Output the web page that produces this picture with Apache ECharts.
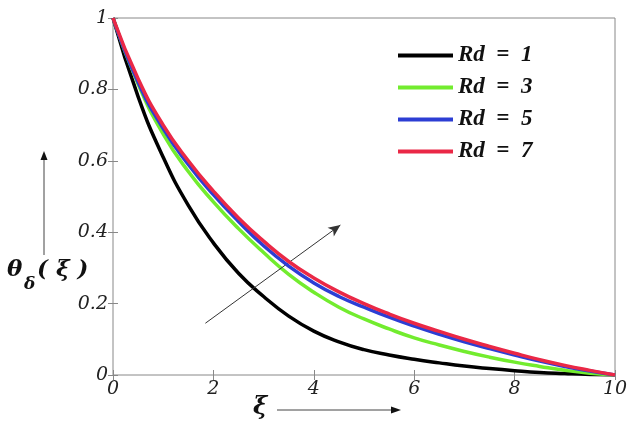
<!DOCTYPE html>
<html>
	<head>
		<meta charset="utf-8">
		<script type="text/javascript" src="https://cdn.jsdelivr.net/npm/echarts@6/dist/echarts.min.js"></script>
		<style>
			html, body { margin: 0; padding: 0; background: #fff; }
		</style>
	</head>
	<body>
		<div id="main" style="width:640px;height:438px;"></div>

		<script type="text/javascript">
			// xi values (step 0.5) and temperature profiles for each Rd
			var xi = [0, 0.5, 1, 1.5, 2, 2.5, 3, 3.5, 4, 4.5, 5, 5.5, 6, 6.5, 7, 7.5, 8, 8.5, 9, 9.5, 10];
			var rd1 = [1, 0.78, 0.61, 0.475, 0.37, 0.285, 0.22, 0.165, 0.123, 0.093, 0.071, 0.056, 0.044, 0.034, 0.025, 0.018, 0.012, 0.007, 0.004, 0.0015, 0];
			var rd3 = [1, 0.815, 0.675, 0.57, 0.485, 0.41, 0.343, 0.282, 0.232, 0.19, 0.157, 0.129, 0.104, 0.084, 0.066, 0.05, 0.036, 0.024, 0.013, 0.005, 0];
			var rd5 = [1, 0.82, 0.69, 0.59, 0.505, 0.43, 0.362, 0.305, 0.258, 0.22, 0.19, 0.162, 0.137, 0.114, 0.093, 0.074, 0.056, 0.039, 0.024, 0.011, 0];
			var rd7 = [1, 0.83, 0.70, 0.60, 0.515, 0.44, 0.375, 0.318, 0.272, 0.233, 0.2, 0.171, 0.145, 0.122, 0.1, 0.08, 0.061, 0.043, 0.027, 0.013, 0];
			var names = ['Rd = 1', 'Rd = 3', 'Rd = 5', 'Rd = 7'];
			var colors = ['#000000', '#72ec2e', '#2c3ed4', '#ea2846'];
			var xTicks = [0, 2, 4, 6, 8, 10];
			var yTicks = [0, 0.2, 0.4, 0.6, 0.8, 1];

			function pairs(ys) {
				return xi.map(function (x, i) { return [x, ys[i]]; });
			}

			var serif = '"Liberation Serif", "DejaVu Serif", serif';
			var wide = '"DejaVu Serif", "Liberation Serif", serif';
			var tickStyle = { fontFamily: wide, fontStyle: 'italic', fontSize: 19, color: '#222' };
			var bigStyle = { fontFamily: wide, fontStyle: 'italic', fontWeight: 'bold', fill: '#111' };

			var myChart = echarts.init(document.getElementById('main'));

			var allData = [rd1, rd3, rd5, rd7];
			var series = allData.map(function (ys, k) {
				return {
					name: names[k],
					type: 'line',
					data: pairs(ys),
					smooth: 0.5,
					showSymbol: false,
					lineStyle: { width: 3.5, color: colors[k] },
					itemStyle: { color: colors[k] },
					z: 3 + k
				};
			});
			// arrow showing increasing Rd
			series[0].markLine = {
				silent: true,
				symbol: ['none', 'arrow'],
				symbolSize: [8, 12],
				label: { show: false },
				lineStyle: { color: '#333', width: 1, type: 'solid' },
				data: [[{ coord: [1.84, 0.145] }, { coord: [4.53, 0.42] }]]
			};

			var option = {
				animation: false,
				grid: { left: 113, right: 25, top: 18, bottom: 63, show: true, borderColor: '#888', borderWidth: 1 },
				legend: {
					orient: 'vertical',
					left: 393,
					top: 39,
					itemWidth: 55,
					itemHeight: 4,
					itemGap: 9,
					icon: 'rect',
					data: names,
					formatter: function (name) { return name.replace(/ /g, '  '); },
					textStyle: { fontFamily: serif, fontStyle: 'italic', fontWeight: 'bold', fontSize: 23, color: '#111' }
				},
				xAxis: [{
					type: 'value', min: 0, max: 10, interval: 2,
					axisLine: { show: false },
					axisTick: { inside: true, length: 5, lineStyle: { color: '#888' } },
					splitLine: { show: false },
					axisLabel: Object.assign({ margin: 5 }, tickStyle)
				}, {
					type: 'value', position: 'top', min: 0, max: 10, interval: 2,
					axisLine: { show: false },
					axisTick: { inside: true, length: 5, lineStyle: { color: '#888' } },
					splitLine: { show: false },
					axisLabel: { show: false }
				}],
				yAxis: [{
					type: 'value', min: 0, max: 1, interval: 0.2,
					axisLine: { show: false },
					axisTick: { inside: true, length: 5, lineStyle: { color: '#888' } },
					splitLine: { show: false },
					axisLabel: Object.assign({ margin: 5 }, tickStyle)
				}, {
					type: 'value', position: 'right', min: 0, max: 1, interval: 0.2,
					axisLine: { show: false },
					axisTick: { inside: true, length: 5, lineStyle: { color: '#888' } },
					splitLine: { show: false },
					axisLabel: { show: false }
				}],
				graphic: [
					{ type: 'text', left: 7, top: 259, style: Object.assign({ text: 'θ', fontSize: 23 }, bigStyle) },
					{ type: 'text', left: 24, top: 276, style: Object.assign({ text: 'δ', fontSize: 17 }, bigStyle) },
					{ type: 'text', left: 37, top: 259, style: Object.assign({ text: '( ξ )', fontSize: 23 }, bigStyle) },
					{ type: 'line', shape: { x1: 44, y1: 255, x2: 44, y2: 156 }, style: { stroke: '#444', lineWidth: 1 } },
					{ type: 'polygon', shape: { points: [[44, 151], [40.5, 160], [47.5, 160]] }, style: { fill: '#111' } },
					{ type: 'text', left: 253, top: 396, style: Object.assign({ text: 'ξ', fontSize: 24 }, bigStyle) },
					{ type: 'line', shape: { x1: 277, y1: 410, x2: 395, y2: 410 }, style: { stroke: '#444', lineWidth: 1 } },
					{ type: 'polygon', shape: { points: [[401, 410], [391, 406.5], [391, 413.5]] }, style: { fill: '#111' } }
				],
				series: series
			};

			myChart.setOption(option);
		</script>
	</body>
</html>
